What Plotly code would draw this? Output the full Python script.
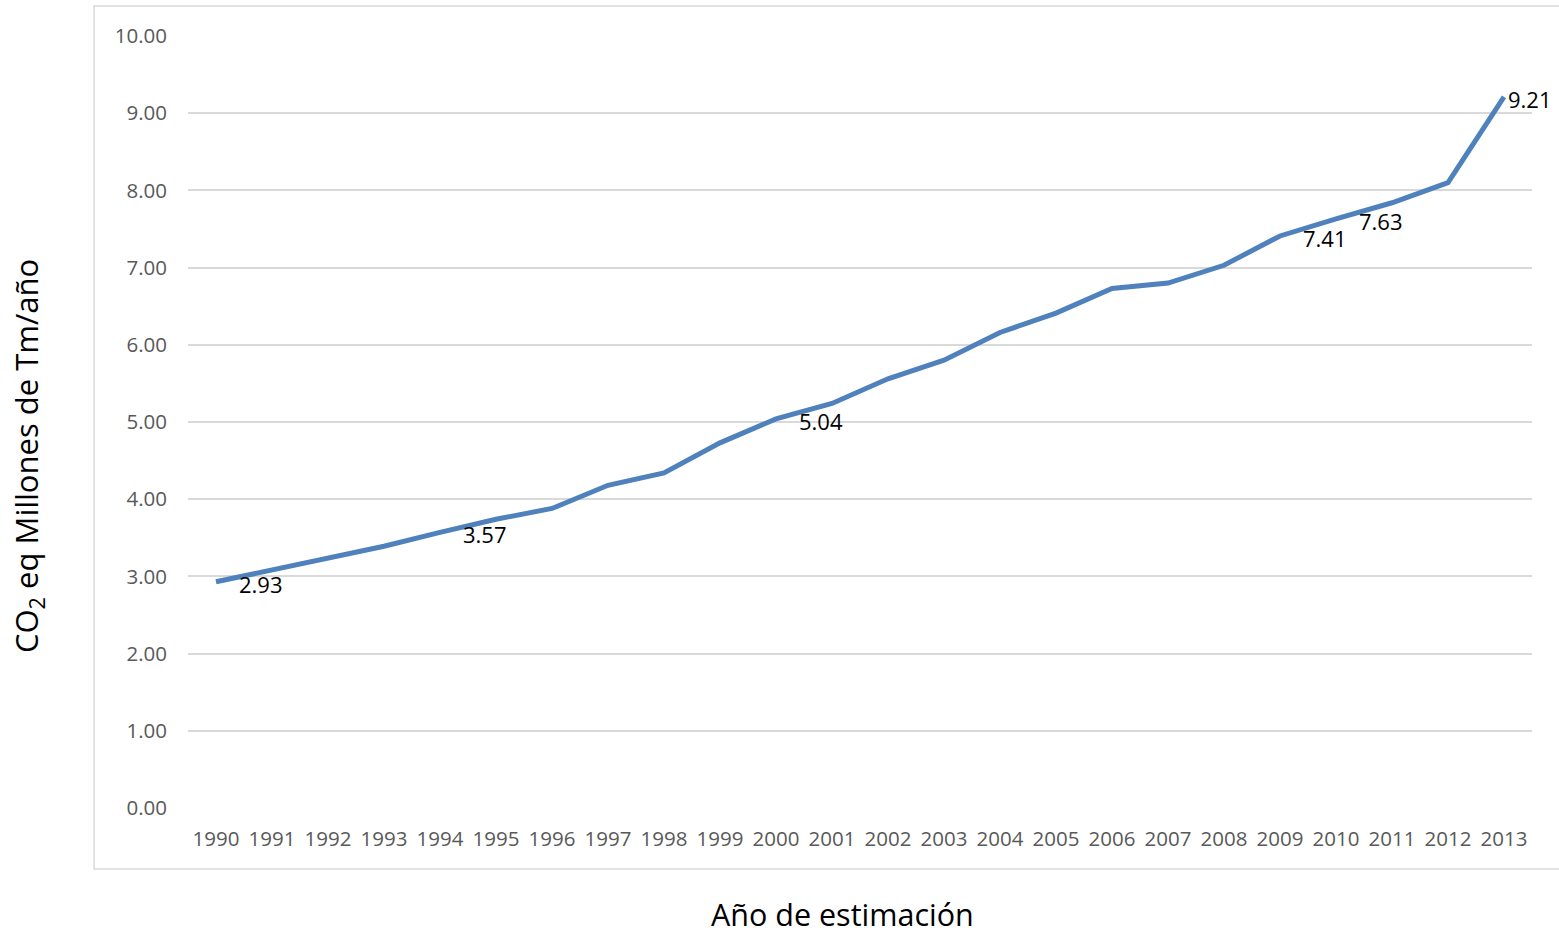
import plotly.graph_objects as go

years = [str(y) for y in range(1990, 2014)]
values = [2.93, 3.08, 3.23, 3.39, 3.57, 3.74, 3.88, 4.18, 4.34, 4.73, 5.04, 5.24,
          5.56, 5.80, 6.16, 6.41, 6.73, 6.80, 7.03, 7.41, 7.63, 7.84, 8.10, 9.21]
labeled_years = ["1990", "1994", "2000", "2009", "2010", "2013"]
y_title = "CO<sub>2</sub> eq Millones de Tm/año"
x_title = "Año de estimación"

FONT = "Open Sans"

fig = go.Figure()
fig.add_trace(go.Scatter(
    x=years, y=values, mode="lines",
    line=dict(color="#4F81BD", width=5),
    hoverinfo="x+y", showlegend=False,
))

annotations = []
for i, (yr, v) in enumerate(zip(years, values)):
    if yr in labeled_years:
        annotations.append(dict(
            x=i, y=v, xref="x", yref="y", text=f"{v:.2f}", showarrow=False,
            xanchor="left", yanchor="middle",
            xshift=2 if i == len(years) - 1 else 21, yshift=-2,
            font=dict(family=FONT, size=22, color="#000000"),
        ))

annotations.append(dict(
    x=-0.119, y=0.456, xref="paper", yref="paper", text=y_title, showarrow=False,
    textangle=-90, xanchor="center", yanchor="middle",
    font=dict(family=FONT, size=31, color="#000000"),
))
annotations.append(dict(
    x=0.487, y=-0.137, xref="paper", yref="paper", text=x_title, showarrow=False,
    xanchor="center", yanchor="middle",
    font=dict(family=FONT, size=30.5, color="#000000"),
))

fig.update_layout(
    width=1559, height=935,
    margin=dict(l=188, r=27, t=36, b=127),
    paper_bgcolor="white", plot_bgcolor="white",
    annotations=annotations,
    shapes=[dict(type="rect", xref="paper", yref="paper",
                 x0=-0.0699, x1=1.025, y0=-0.079, y1=1.0389,
                 line=dict(color="#D9D9D9", width=1.5), fillcolor="rgba(0,0,0,0)",
                 layer="below")],
)
fig.update_xaxes(
    type="category", range=[-0.5, len(years) - 0.5],
    showgrid=False, showline=False, zeroline=False, ticks="",
    tickfont=dict(family=FONT, size=20.5, color="#595959"),
    ticklabelstandoff=16,
)
fig.update_yaxes(
    range=[0, 10], dtick=1, tickformat=".2f",
    showgrid=True, gridcolor="#D9D9D9", gridwidth=1.5,
    zeroline=False, showline=False, ticks="",
    tickfont=dict(family=FONT, size=20.5, color="#595959"),
    ticklabelstandoff=20,
)

fig.write_html("out.html", config={"displayModeBar": False},
               post_script="document.body.style.margin='0px';")
